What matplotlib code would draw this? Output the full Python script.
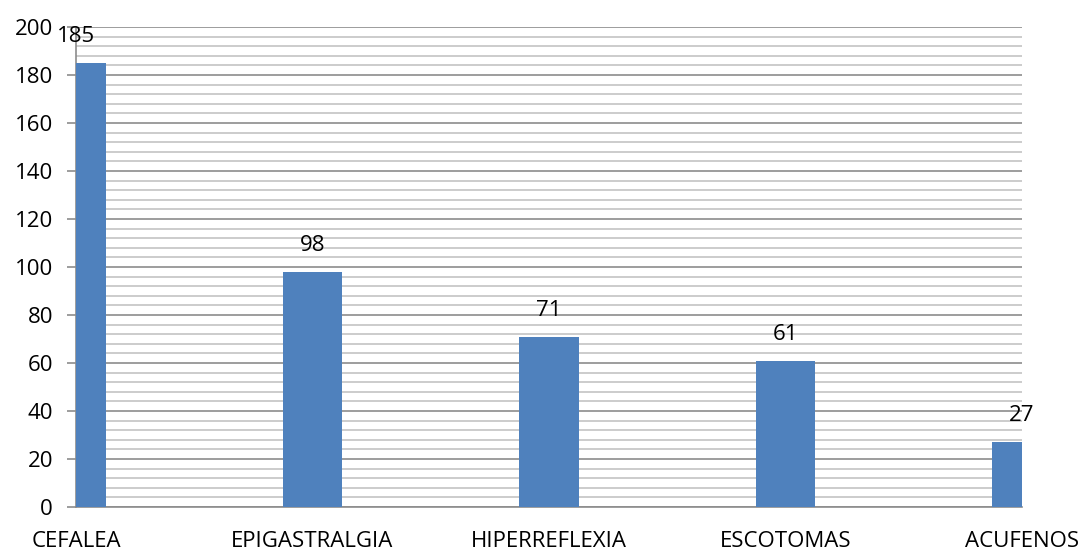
import matplotlib
matplotlib.use("Agg")
import matplotlib.pyplot as plt
from matplotlib.ticker import MultipleLocator

# Síntomas y número de casos
sintomas = ["CEFALEA", "EPIGASTRALGIA", "HIPERREFLEXIA", "ESCOTOMAS", "ACUFENOS"]
casos = [185, 98, 71, 61, 27]
y_ticks = [0, 20, 40, 60, 80, 100, 120, 140, 160, 180, 200]

plt.rcParams["font.family"] = ["Open Sans", "DejaVu Sans"]
FS = 16

fig = plt.figure(figsize=(10.79, 5.52), dpi=100)
ax = fig.add_axes([76 / 1079, 45 / 552, 946 / 1079, 480 / 552])

x = list(range(len(sintomas)))
ax.bar(x, casos, width=0.25, color="#4F81BD", zorder=3)

for xi, v in zip(x, casos):
    ax.text(xi, v + 11, str(v), ha="center", va="center", fontsize=FS, zorder=4)

ax.set_xlim(0, len(sintomas) - 1)
ax.set_ylim(0, 200)
ax.set_yticks(y_ticks)
ax.yaxis.set_minor_locator(MultipleLocator(4))
ax.set_xticks(x)
ax.set_xticklabels(sintomas)

ax.grid(axis="y", which="major", color="#8c8c8c", linewidth=1.2, zorder=1)
ax.grid(axis="y", which="minor", color="#c4c4c4", linewidth=1.2, zorder=1)
ax.set_axisbelow(True)

for s in ("top", "right"):
    ax.spines[s].set_visible(False)
for s in ("left", "bottom"):
    ax.spines[s].set_color("#8c8c8c")
    ax.spines[s].set_linewidth(1.2)

ax.tick_params(axis="y", which="major", length=6.5, color="#8c8c8c", width=1.2,
               labelsize=FS, pad=10)
ax.tick_params(axis="y", which="minor", length=0)
ax.tick_params(axis="x", length=0, labelsize=FS, pad=17)

fig.savefig("out.png", dpi=100)
